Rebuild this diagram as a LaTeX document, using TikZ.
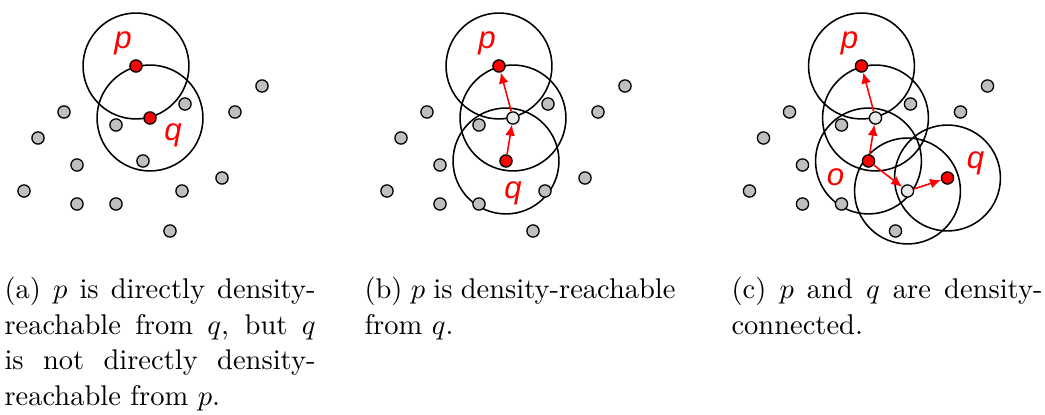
\documentclass[tikz,border=0pt]{standalone}
\usepackage{amsmath}
\usepackage{fontspec}
\usepackage{tikz}
\usetikzlibrary{arrows.meta, positioning}
\newfontfamily\lblfont{Liberation Sans}
\definecolor{ptGray}{RGB}{191,191,191}
\definecolor{ptLight}{RGB}{232,232,232}
\definecolor{ptRed}{RGB}{255,0,0}
\tikzset{
  pt/.style={
    circle, draw=black, line width=0.5pt,
    fill=ptGray, inner sep=0pt, minimum size=0.165cm
  },
  core/.style={pt, fill=ptRed},
  border/.style={pt, fill=ptLight},
  epsball/.style={
    circle, draw=black, line width=0.6pt,
    inner sep=0pt, minimum size=1.43cm
  },
  reach/.style={
    -{Latex[length=4.2pt,width=3.8pt]},
    line width=0.6pt, color=ptRed
  },
  lbl/.style={
    font=\lblfont\itshape\fontsize{12}{14}\selectfont,
    text=ptRed, inner sep=0pt
  },
  capt/.style={
    anchor=north west, inner sep=0pt,
    text width=4.2cm, align=justify,
    font={\fontsize{10.95}{13.6}\selectfont\tolerance=9999\parindent=0pt}
  }
}
% points shared by all three panels
\newcommand{\grays}{64/112, 38/138, 77/165, 24/191, 77/204, 116/204,
  116/125, 185/104, 235/112, 262/86, 170/231}

\begin{document}
\begin{tikzpicture}[x=0.0135cm, y=-0.0135cm]
  \useasboundingbox (0,0) rectangle (1045,415);

  % (a) directly density-reachable
  \begin{scope}
    \node[epsball] at (136,66)  {};
    \node[epsball] at (150,118) {};
    \foreach \x/\y in \grays { \node[pt] at (\x,\y) {}; }
    \node[pt]   (ax) at (222,178) {};
    \node[pt]   (ay) at (182,191) {};
    \node[pt]   (az) at (143,161) {};
    \node[core] (ap) at (136,66)  {};
    \node[core] (aq) at (150,118) {};
    \node[lbl] (aplbl) at (123,43)  {p};
    \node[lbl] (aqlbl) at (173,135) {q};
  \end{scope}

  % (b) density-reachable
  \begin{scope}[shift={(363,0)}]
    \node[epsball] at (136,66)  {};
    \node[epsball] at (150,118) {};
    \node[epsball] at (143,161) {};
    \foreach \x/\y in \grays { \node[pt] at (\x,\y) {}; }
    \node[pt]     (bx) at (222,178) {};
    \node[pt]     (by) at (182,191) {};
    \node[core]   (bp) at (136,66)  {};
    \node[border] (bw) at (150,118) {};
    \node[core]   (bq) at (143,161) {};
    \node[lbl] (bplbl) at (124,43)  {p};
    \node[lbl] (bqlbl) at (150,193) {q};
    \draw[reach] (bq) -- (bw);
    \draw[reach] (bw) -- (bp);
  \end{scope}

  % (c) density-connected
  \begin{scope}[shift={(725.5,0)}]
    \node[epsball] at (136,66)  {};
    \node[epsball] at (150,118) {};
    \node[epsball] at (143,161) {};
    \node[epsball] at (182,191) {};
    \node[epsball] at (222,178) {};
    \foreach \x/\y in \grays { \node[pt] at (\x,\y) {}; }
    \node[core]   (cp)  at (136,66)  {};
    \node[border] (cw1) at (150,118) {};
    \node[core]   (co)  at (143,161) {};
    \node[border] (cw2) at (182,191) {};
    \node[core]   (cq)  at (222,178) {};
    \node[lbl] (cplbl) at (124,43)  {p};
    \node[lbl] (colbl) at (110,177) {o};
    \node[lbl] (cqlbl) at (250,163) {q};
    \draw[reach] (co)  -- (cw1);
    \draw[reach] (cw1) -- (cp);
    \draw[reach] (co)  -- (cw2);
    \draw[reach] (cw2) -- (cq);
  \end{scope}

  % captions
  \node[capt] (capa) at (4,277)
    {(a) $p$ is directly density-reachable from $q$, but $q$ is not directly density-reachable from $p$.};
  \node[capt] (capb) at (364,277)
    {(b) $p$ is density-reachable from $q$.};
  \node[capt] (capc) at (731,277)
    {(c) $p$ and $q$ are density-connected.};

\end{tikzpicture}
\end{document}
